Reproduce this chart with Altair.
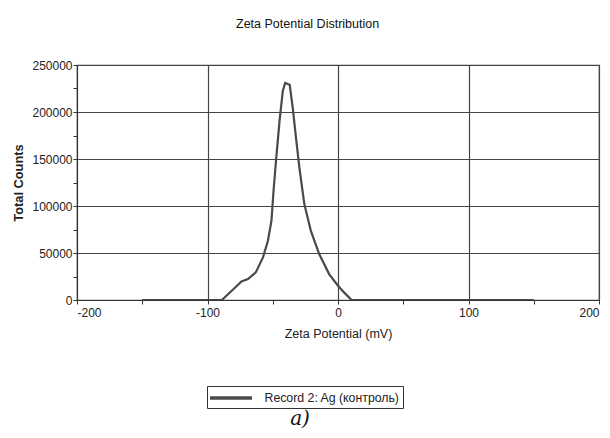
import altair as alt
import pandas as pd

zeta_mv = [-150, -100, -89, -80, -74, -69, -63, -57.5, -53.7, -51, -49.4, -47.3, -44.8,
           -42.3, -40.5, -37, -34.7, -32.2, -29.6, -25.8, -20.8, -14.4, -6.8, 0, 4.6,
           10.4, 50, 100, 150]
total_counts = [0, 0, 0, 11700, 19800, 22300, 29400, 45300, 63000, 84300, 116000, 151500,
                190500, 222400, 231000, 229000, 204700, 172800, 140900, 102000, 73600,
                48900, 27600, 15200, 8100, 0, 0, 0, 0]
series_name = "Record 2: Ag (контроль)"
x_ticks = list(range(-200, 201, 50))
y_ticks = list(range(0, 250001, 25000))

df = pd.DataFrame({"zeta": zeta_mv, "counts": total_counts, "series": series_name})

FONT = "Liberation Sans"

line = alt.Chart(df).mark_line(strokeWidth=2.2, clip=True).encode(
    x=alt.X("zeta:Q",
            scale=alt.Scale(domain=[-200, 200], nice=False),
            axis=alt.Axis(values=x_ticks, title="Zeta Potential (mV)",
                          labelExpr="datum.value % 100 === 0 ? '' + datum.value : ''",
                          gridOpacity={"condition": {"test": "datum.value % 100 === 0", "value": 1}, "value": 0},
                          tickSize=4, labelPadding=3, titlePadding=9,
                          labelFontSize=12, titleFontSize=12.5, titleFontWeight="normal")),
    y=alt.Y("counts:Q",
            scale=alt.Scale(domain=[0, 250000], nice=False),
            axis=alt.Axis(values=y_ticks, title="Total Counts",
                          labelExpr="datum.value % 50000 === 0 ? '' + datum.value : ''",
                          gridOpacity={"condition": {"test": "datum.value % 50000 === 0", "value": 1}, "value": 0},
                          tickSize=4, labelPadding=1, titlePadding=6,
                          labelFontSize=12, titleFontSize=12.8, titleFontWeight="bold")),
    color=alt.Color("series:N", scale=alt.Scale(range=["#4a4a4a"]),
                    legend=alt.Legend(title=None, orient="none", legendX=130, legendY=321,
                                      symbolType="M-3,0H3", symbolSize=196, symbolStrokeWidth=3.5,
                                      symbolOffset=12, labelOffset=24.5, labelFontSize=12.3,
                                      labelFont=FONT, labelColor="#222",
                                      strokeColor="#333", padding=3)),
)

label_a = alt.Chart(pd.DataFrame({"t": ["a)"]})).mark_text(
    font="DejaVu Serif", fontStyle="italic", fontSize=20, color="#111", baseline="middle", align="center"
).encode(text="t:N", x=alt.value(223), y=alt.value(354))

chart = alt.layer(line, label_a).properties(
    width=522, height=235,
    title=alt.TitleParams("Zeta Potential Distribution", fontSize=12.5, fontWeight="normal",
                          font=FONT, color="#111", offset=29, anchor="start", frame="group", dx=159),
    autosize=alt.AutoSizeParams(type="none"),
    padding={"left": 69, "top": 57, "right": 3, "bottom": 130},
).configure_axis(
    labelFont=FONT, titleFont=FONT, domainColor="#333", tickColor="#333",
    gridColor="#444", gridWidth=1.2, labelColor="#222", titleColor="#222",
).configure_view(stroke="#444", strokeWidth=1.2)

chart.save("out.html", embed_options={"renderer": "svg", "actions": False})
